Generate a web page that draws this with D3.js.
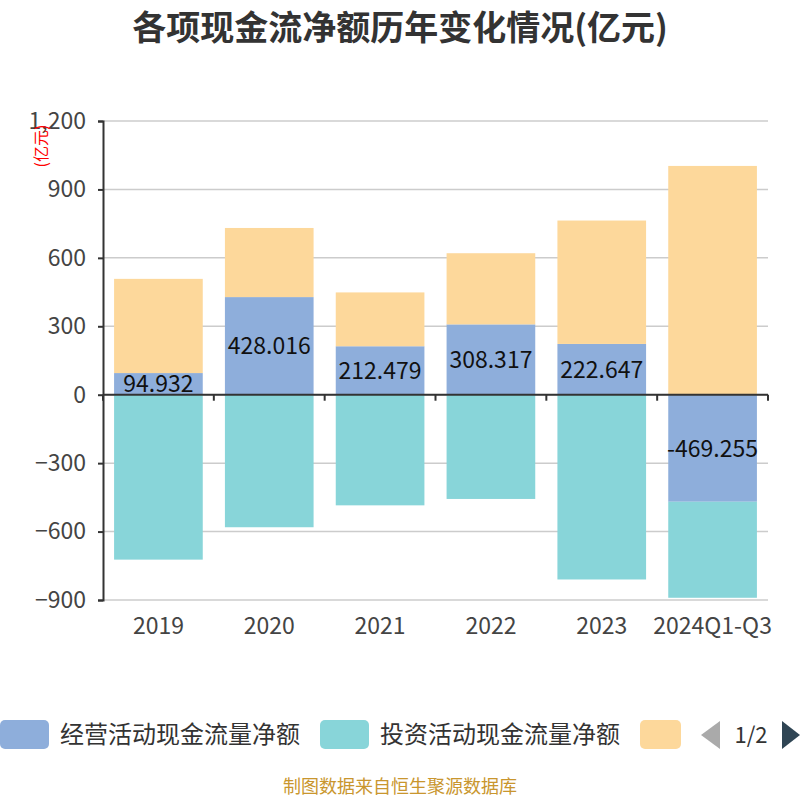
<html>
<head>
<meta charset="utf-8">
<script src="https://d3js.org/d3.v7.min.js"></script>
<style>
  body { margin: 0; background: #fff; }
  text { font-family: "Noto Sans CJK SC", "Noto Sans", sans-serif; }
</style>
</head>
<body>
<svg width="800" height="800"></svg>
<script>
// categories and series
var years = ["2019", "2020", "2021", "2022", "2023", "2024Q1-Q3"];
var operating = [94.932, 428.016, 212.479, 308.317, 222.647, -469.255];
var investing = [-723, -581, -485, -457, -810, -421];
var financing = [413, 303, 236, 312, 541, 1003];
var yTicks = [-900, -600, -300, 0, 300, 600, 900, 1200];

var seriesNames = ["经营活动现金流量净额", "投资活动现金流量净额", "筹资活动现金流量净额"];
var colors = ["#8eaedb", "#88d5d9", "#fdd89b"];

var svg = d3.select("svg");

// build rows for the stack
var rows = years.map(function(y, i) {
    return { year: y, op: operating[i], inv: investing[i], fin: financing[i] };
});
var keys = ["op", "inv", "fin"];
var stacked = d3.stack().keys(keys).offset(d3.stackOffsetDiverging)(rows);

var x = d3.scaleBand().domain(years).range([103, 768]).paddingInner(0.2).paddingOuter(0.1);
var y = d3.scaleLinear().domain([-900, 1200]).range([600, 121]);

// title
svg.append("text")
    .attr("x", 400).attr("y", 40)
    .attr("text-anchor", "middle")
    .attr("font-size", 34).attr("font-weight", "bold")
    .attr("fill", "#333")
    .text("各项现金流净额历年变化情况(亿元)");

// gridlines
svg.append("g").selectAll("line").data(yTicks).enter().append("line")
    .attr("x1", 103).attr("x2", 768)
    .attr("y1", function(d) { return y(d); }).attr("y2", function(d) { return y(d); })
    .attr("stroke", "#ccc").attr("stroke-width", 1.5);

// bars
svg.append("g").selectAll("g").data(stacked).enter().append("g")
    .attr("fill", function(d, i) { return colors[i]; })
    .selectAll("rect").data(function(d) { return d; }).enter().append("rect")
    .attr("x", function(d) { return x(d.data.year); })
    .attr("width", x.bandwidth())
    .attr("y", function(d) { return y(Math.max(d[0], d[1])); })
    .attr("height", function(d) { return Math.abs(y(d[0]) - y(d[1])); });

// y axis
var yAxis = d3.axisLeft(y).tickValues(yTicks).tickSize(5).tickPadding(12)
    .tickFormat(d3.format(","));
var gy = svg.append("g").attr("transform", "translate(103,0)").call(yAxis);
gy.select(".domain").attr("stroke", "#333").attr("stroke-width", 2);
gy.selectAll(".tick line").attr("stroke", "#333").attr("stroke-width", 2);
gy.selectAll(".tick text").attr("font-size", 23).attr("fill", "#444")
    .attr("font-family", "'Open Sans', sans-serif");

// x axis line at zero, ticks at category boundaries
var y0 = y(0);
svg.append("line").attr("x1", 103).attr("x2", 768).attr("y1", y0).attr("y2", y0)
    .attr("stroke", "#333").attr("stroke-width", 2);
var bounds = d3.range(years.length + 1).map(function(i) { return 103 + x.step() * i; });
svg.append("g").selectAll("line").data(bounds).enter().append("line")
    .attr("x1", function(d) { return d; }).attr("x2", function(d) { return d; })
    .attr("y1", y0).attr("y2", y0 + 6)
    .attr("stroke", "#333").attr("stroke-width", 2);

// category labels at the bottom
svg.append("g").selectAll("text").data(years).enter().append("text")
    .attr("x", function(d) { return x(d) + x.bandwidth() / 2; })
    .attr("y", 634)
    .attr("text-anchor", "middle")
    .attr("font-size", 23).attr("fill", "#444")
    .attr("font-family", "'Open Sans', sans-serif")
    .text(function(d) { return d; });

// labels in the operating segment
svg.append("g").selectAll("text").data(stacked[0]).enter().append("text")
    .attr("x", function(d) { return x(d.data.year) + x.bandwidth() / 2; })
    .attr("y", function(d) { return (y(d[0]) + y(d[1])) / 2; })
    .attr("dy", "0.36em")
    .attr("text-anchor", "middle")
    .attr("font-size", 23).attr("fill", "#111")
    .attr("font-family", "'Open Sans', sans-serif")
    .text(function(d, i) { return operating[i]; });

// unit label
svg.append("text")
    .attr("transform", "translate(47,146) rotate(-90)")
    .attr("text-anchor", "middle")
    .attr("font-size", 16).attr("fill", "red")
    .text("(亿元)");

// legend (page 1 of 2)
var legend = svg.append("g");
var legendX = [0, 320, 640];
legend.selectAll("rect").data(seriesNames).enter().append("rect")
    .attr("x", function(d, i) { return legendX[i]; })
    .attr("y", 720)
    .attr("width", function(d, i) { return i == 2 ? 41 : 49; })
    .attr("height", 29)
    .attr("rx", 5)
    .attr("fill", function(d, i) { return colors[i]; });
legend.selectAll("text").data(seriesNames.slice(0, 2)).enter().append("text")
    .attr("x", function(d, i) { return legendX[i] + 60; })
    .attr("y", 743)
    .attr("font-size", 24).attr("fill", "#333")
    .text(function(d) { return d; });
legend.append("path").attr("d", "M720,721 L701,735 L720,749 Z").attr("fill", "#aaa");
legend.append("text").attr("x", 751).attr("y", 743).attr("text-anchor", "middle")
    .attr("font-size", 22).attr("fill", "#333")
    .attr("font-family", "'Open Sans', sans-serif").text("1/2");
legend.append("path").attr("d", "M782,721 L800,735 L782,749 Z").attr("fill", "#2f4554");

// footer
svg.append("text")
    .attr("x", 400).attr("y", 793)
    .attr("text-anchor", "middle")
    .attr("font-size", 18).attr("fill", "#c9962e")
    .text("制图数据来自恒生聚源数据库");
</script>
</body>
</html>
